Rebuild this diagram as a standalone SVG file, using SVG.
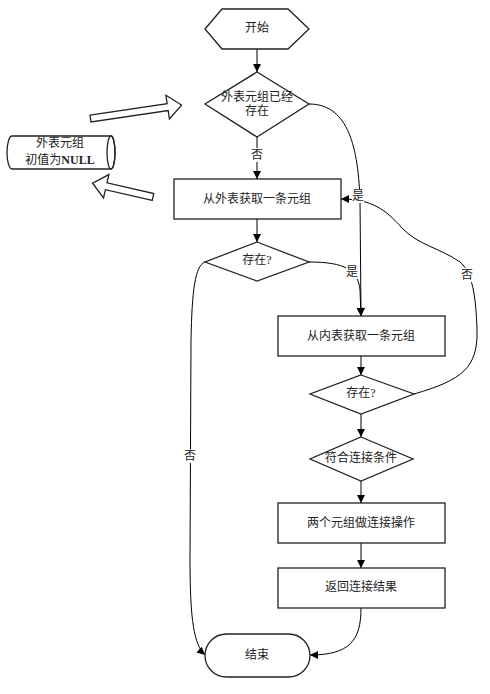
<svg xmlns="http://www.w3.org/2000/svg" width="490" height="694" viewBox="0 0 490 694">
<defs>
<marker id="ah" viewBox="0 0 10 10" refX="10" refY="5" markerWidth="9" markerHeight="8" markerUnits="userSpaceOnUse" orient="auto">
<path d="M0,0 L10,5 L0,10 Z" fill="#000"/>
</marker>
<style>
.shape{fill:#fff;stroke:#222;stroke-width:1.3}
.t{font-family:"Liberation Serif","Noto Sans CJK SC",serif;font-size:12px;fill:#222;text-anchor:middle;dominant-baseline:central}
.c{fill:none;stroke:#000;stroke-width:1}
.a{marker-end:url(#ah)}
.lb{fill:#fff}
</style>
</defs>
<rect width="490" height="694" fill="#fff"/>

<g id="connectors">
<path class="c a" d="M257,49 L257,72"/>
<path class="c a" d="M257,137 L257,179"/>
<path class="c a" d="M309,104 C345,104 358,140 360,200 L361,316"/>
<path class="c a" d="M257,219 L257,242"/>
<path class="c a" d="M309,262 C345,262 358,270 360,290 L361,316"/>
<path class="c a" d="M205,262 C195,266 192,290 191,340 L190,560 C190,620 194,645 205,655"/>
<path class="c a" d="M361,356 L361,375"/>
<path class="c a" d="M414,394 C462,380 478,368 477,330 C476,295 472,272 460,262 C440,248 418,245 402,228 C386,210 372,199 341,199"/>
<path class="c a" d="M361,414 L361,437"/>
<path class="c a" d="M361,481 L361,503"/>
<path class="c a" d="M361,543 L361,568"/>
<path class="c a" d="M361,608 C361,640 350,655 310,655"/>
<rect class="lb" x="251" y="148" width="12" height="14"/>
<text class="t" x="257" y="155">否</text>
<rect class="lb" x="352" y="189" width="12" height="14"/>
<text class="t" x="358" y="196">是</text>
<rect class="lb" x="346" y="265" width="12" height="14"/>
<text class="t" x="352" y="272">是</text>
<rect class="lb" x="461" y="268" width="12" height="14"/>
<text class="t" x="467" y="275">否</text>
<rect class="lb" x="184" y="449" width="12" height="14"/>
<text class="t" x="190" y="456">否</text>
</g>

<g id="start">
<polygon class="shape" points="205,29 222,9 288,9 309,29 288,49 222,49"/>
<text class="t" x="257" y="28">开始</text>
</g>
<g id="d1">
<polygon class="shape" points="257,72 309,104 257,137 205,104"/>
<text class="t" x="257" y="97">外表元组已经</text>
<text class="t" x="257" y="111">存在</text>
</g>
<g id="r1">
<rect class="shape" x="174" y="179" width="167" height="40"/>
<text class="t" x="257" y="199">从外表获取一条元组</text>
</g>
<g id="d2">
<polygon class="shape" points="257,242 309,262 257,281 205,262"/>
<text class="t" x="257" y="260">存在?</text>
</g>
<g id="r2">
<rect class="shape" x="278" y="316" width="167" height="40"/>
<text class="t" x="361" y="336">从内表获取一条元组</text>
</g>
<g id="d3">
<polygon class="shape" points="361,375 414,394 361,414 310,394"/>
<text class="t" x="361" y="393">存在?</text>
</g>
<g id="d4">
<polygon class="shape" points="361,437 413,459 361,481 310,459"/>
<text class="t" x="361" y="458">符合连接条件</text>
</g>
<g id="r3">
<rect class="shape" x="278" y="503" width="167" height="40"/>
<text class="t" x="361" y="523">两个元组做连接操作</text>
</g>
<g id="r4">
<rect class="shape" x="278" y="568" width="167" height="40"/>
<text class="t" x="361" y="587">返回连接结果</text>
</g>
<g id="end">
<rect class="shape" x="205" y="634" width="105" height="43" rx="21.5" ry="21.5"/>
<text class="t" x="257" y="655">结束</text>
</g>
<g id="cylinder">
<path class="shape" d="M12,136 L111,136 A4,16.5 0 0 1 111,169 L12,169 A5,16.5 0 0 1 12,136 Z"/>
<ellipse cx="111" cy="152.5" rx="4" ry="16.5" fill="none" stroke="#222" stroke-width="1.3"/>
<text class="t" x="60" y="143">外表元组</text>
<text class="t" x="60" y="160">初值为<tspan font-weight="bold">NULL</tspan></text>
</g>
<g id="arrow-in">
<polygon class="shape" points="0,-3.5 78,-3.5 78,-12 92,0 78,12 78,3.5 0,3.5" transform="translate(90.5,118.5) rotate(-8.4)"/>
</g>
<g id="arrow-out">
<polygon class="shape" points="0,-3.5 48,-3.5 48,-12 62,0 48,12 48,3.5 0,3.5" transform="translate(153,197) rotate(192.9)"/>
</g>
</svg>
